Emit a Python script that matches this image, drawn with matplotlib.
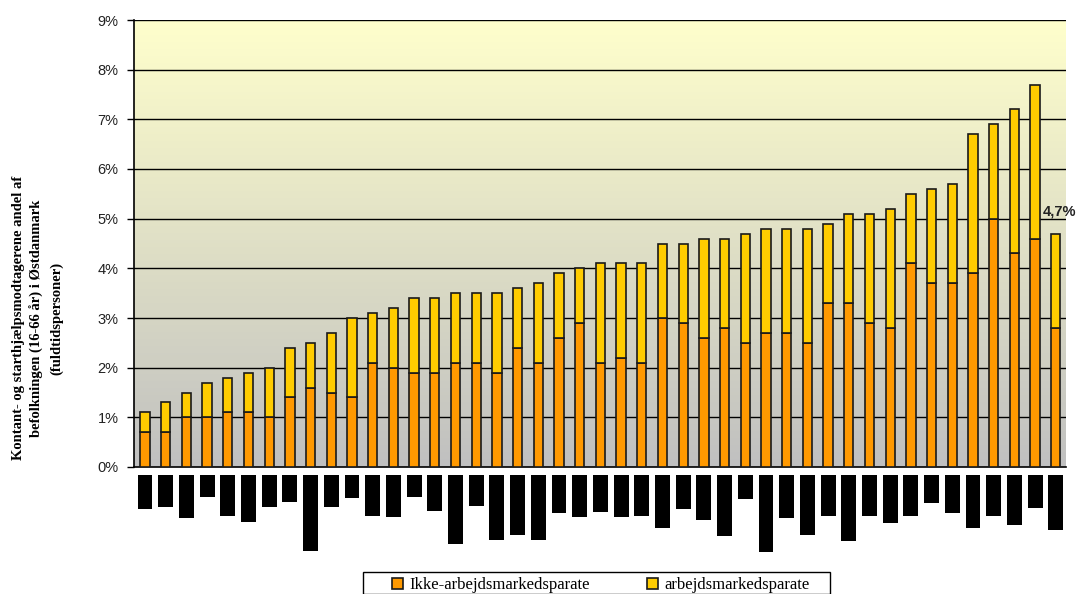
import numpy as np
import matplotlib
matplotlib.use("Agg")
import matplotlib.pyplot as plt
from matplotlib.patches import Rectangle

# ---- data ----
ikke = [0.7, 0.7, 1.0, 1.0, 1.1, 1.1, 1.0, 1.4, 1.6, 1.5, 1.4, 2.1, 2.0, 1.9, 1.9,
        2.1, 2.1, 1.9, 2.4, 2.1, 2.6, 2.9, 2.1, 2.2, 2.1, 3.0, 2.9, 2.6, 2.8, 2.5,
        2.7, 2.7, 2.5, 3.3, 3.3, 2.9, 2.8, 4.1, 3.7, 3.7, 3.9, 5.0, 4.3, 4.6, 2.8]
total = [1.1, 1.3, 1.5, 1.7, 1.8, 1.9, 2.0, 2.4, 2.5, 2.7, 3.0, 3.1, 3.2, 3.4, 3.4,
         3.5, 3.5, 3.5, 3.6, 3.7, 3.9, 4.0, 4.1, 4.1, 4.1, 4.5, 4.5, 4.6, 4.6, 4.7,
         4.8, 4.8, 4.8, 4.9, 5.1, 5.1, 5.2, 5.5, 5.6, 5.7, 6.7, 6.9, 7.2, 7.7, 4.7]
arbejds = [round(t - i, 2) for t, i in zip(total, ikke)]
# redacted category labels: length of each black label box (pixels)
label_len = [34, 32, 43, 22, 41, 47, 32, 27, 76, 32, 23, 41, 42, 22, 36, 69, 31, 65,
             60, 65, 38, 42, 37, 42, 41, 53, 34, 45, 61, 24, 77, 43, 60, 41, 66, 41,
             48, 41, 28, 38, 53, 41, 50, 33, 55]
yticks = [0, 1, 2, 3, 4, 5, 6, 7, 8, 9]
series_names = ["Ikke-arbejdsmarkedsparate", "arbejdsmarkedsparate"]
ylabel = ("Kontant- og starthjælpsmodtagerene andel af\n"
          "befolkningen (16-66 år) i Østdanmark\n(fuldtidspersoner)")

W, H = 1078, 594
fig = plt.figure(figsize=(W / 100, H / 100), dpi=100)
L, R, B, T = 134, 1065.5, 467, 20
ax = fig.add_axes([L / W, 1 - B / H, (R - L) / W, (B - T) / H])

n = len(total)
x = np.arange(n)
ax.set_xlim(-0.53, n - 0.53)
ax.set_ylim(0, 9)

# gradient background
grad = np.linspace(0, 1, 256)[:, None]
top = np.array([255, 255, 204]) / 255
bot = np.array([192, 192, 192]) / 255
img = top[None, None, :] * (1 - grad[..., None]) + bot[None, None, :] * grad[..., None]
ax.imshow(img, extent=[-0.53, n - 0.53, 0, 9], aspect="auto", zorder=0,
          origin="upper")

for yv in yticks[1:]:
    ax.axhline(yv, color="black", lw=1.0, zorder=1)

bw = 0.45
ax.bar(x, ikke, width=bw, color="#FF9900", edgecolor="#1a1a1a", lw=1.2,
       zorder=3, label=series_names[0])
ax.bar(x, arbejds, bottom=ikke, width=bw, color="#FFCC00", edgecolor="#1a1a1a",
       lw=1.2, zorder=3, label=series_names[1])

ax.set_yticks(yticks)
ax.set_yticklabels([f"{v}%" for v in yticks], fontsize=10.5,
                   family="Liberation Sans", color="#222222")
ax.tick_params(axis="y", length=5, width=1, direction="out", pad=6)
ax.set_xticks([])
for s in ["top", "right"]:
    ax.spines[s].set_visible(False)
ax.spines["left"].set_linewidth(1.2)
ax.spines["bottom"].set_linewidth(1.2)

# annotation for last bar
ax.text(n - 1.62, total[-1] + 0.45, f"{total[-1]:.1f}%".replace(".", ","),
        fontsize=10.5, fontweight="bold", family="Liberation Sans",
        color="#222222", ha="left", va="center", clip_on=False)

# y label
fig.text(37.5 / W, 1 - 318 / H, ylabel, rotation=90, ha="center", va="center",
         family="Liberation Serif", fontweight="bold", fontsize=10.5,
         linespacing=1.5, multialignment="center")

# redacted category labels (black boxes)
lab = fig.add_axes([L / W, 1 - 560 / H, (R - L) / W, (560 - 475) / H])
lab.set_xlim(-0.53, n - 0.53)
lab.set_ylim(560 - 475, 0)
lab.bar(x, label_len, width=0.72, color="black")
lab.axis("off")

# legend frame and legend
fig.patches.append(Rectangle((363 / W, 0), (830 - 363) / W, 1 - 572 / H,
                             transform=fig.transFigure, facecolor="white",
                             edgecolor="black", lw=1.0))
leg = fig.legend(loc="center left", bbox_to_anchor=(392 / W, 1 - 585 / H),
                 ncol=2, frameon=False,
                 prop={"family": "Liberation Serif", "size": 12},
                 handlelength=0.65, handleheight=0.65, columnspacing=3.4,
                 borderpad=0, handletextpad=0.4, borderaxespad=0)
fig.savefig("out.png", dpi=100)
